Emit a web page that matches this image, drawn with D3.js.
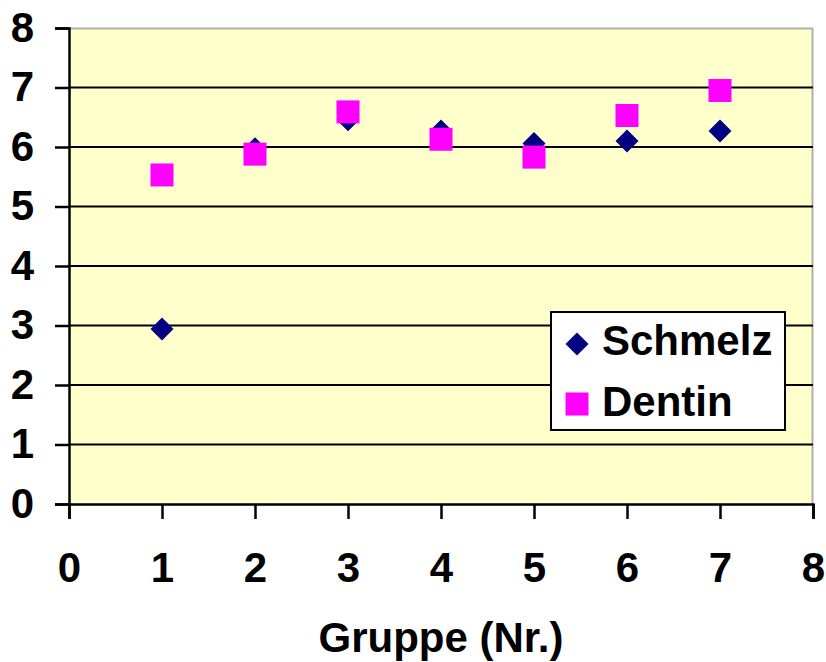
<!DOCTYPE html>
<html>
<head>
<meta charset="utf-8">
<script src="https://cdn.jsdelivr.net/npm/d3@7"></script>
<style>
  body { margin: 0; background: #fff; }
  svg text { font-family: "Liberation Sans", Arial, sans-serif; font-weight: bold; fill: #000; }
</style>
</head>
<body>
<div id="chart"></div>
<script>
const groups = [1, 2, 3, 4, 5, 6, 7];
const schmelz = [2.94, 5.97, 6.46, 6.27, 6.06, 6.10, 6.27];
const dentin = [5.53, 5.88, 6.59, 6.13, 5.83, 6.53, 6.95];
const xTicks = [0, 1, 2, 3, 4, 5, 6, 7, 8];
const yTicks = [0, 1, 2, 3, 4, 5, 6, 7, 8];

const width = 826;
const height = 662;
const margin = { top: 28, right: 13, bottom: 158, left: 69 };
const innerW = width - margin.left - margin.right;
const innerH = height - margin.top - margin.bottom;
const fontSize = '42px';

const svg = d3.select('#chart').append('svg')
    .attr('width', width)
    .attr('height', height);

const group = svg.append('g')
    .attr('transform', `translate(${margin.left}, ${margin.top})`);

const xScale = d3.scaleLinear().domain([0, 8]).range([0, innerW]);
const yScale = d3.scaleLinear().domain([0, 8]).range([innerH, 0]);

// plot area
group.append('rect')
    .attr('width', innerW)
    .attr('height', innerH)
    .attr('fill', '#ffffcc');

// gray frame top / right
group.append('path')
    .attr('d', `M0,0.5H${innerW - 0.5}V${innerH}`)
    .attr('fill', 'none')
    .attr('stroke', '#b0b0b0')
    .attr('stroke-width', 2);

// gridlines
group.append('g')
    .selectAll('line')
    .data(yTicks.filter(d => d > 0 && d < 8))
    .join('line')
    .attr('x1', 0)
    .attr('x2', innerW)
    .attr('y1', d => yScale(d))
    .attr('y2', d => yScale(d))
    .attr('stroke', '#000')
    .attr('stroke-width', 2);

// axes
const yAxis = group.append('g')
    .call(d3.axisLeft(yScale).tickValues(yTicks).tickSize(14).tickPadding(21));
const xAxis = group.append('g')
    .attr('transform', `translate(0, ${innerH})`)
    .call(d3.axisBottom(xScale).tickValues(xTicks).tickSize(15).tickPadding(33));

[xAxis, yAxis].forEach(ax => {
    ax.select('.domain').attr('stroke', '#000').attr('stroke-width', 2.5);
    ax.selectAll('.tick line').attr('stroke', '#000').attr('stroke-width', 2.5);
    ax.selectAll('.tick text')
        .style('font-size', fontSize)
        .style('font-family', '"Liberation Sans", Arial, sans-serif')
        .style('font-weight', 'bold')
        .attr('fill', '#000');
});
yAxis.selectAll('.tick text').attr('dy', '0.31em');
xAxis.selectAll('.tick text').attr('dy', '0.71em');

// markers
const half = 11.5;
const diamond = (cx, cy) => `M${cx},${cy - half}L${cx + half},${cy}L${cx},${cy + half}L${cx - half},${cy}Z`;

group.append('g')
    .selectAll('path')
    .data(groups.map((g, i) => ({ x: g, y: schmelz[i] })))
    .join('path')
    .attr('d', d => diamond(xScale(d.x), yScale(d.y)))
    .attr('fill', '#000080');

group.append('g')
    .selectAll('rect')
    .data(groups.map((g, i) => ({ x: g, y: dentin[i] })))
    .join('rect')
    .attr('x', d => xScale(d.x) - half)
    .attr('y', d => yScale(d.y) - half)
    .attr('width', half * 2)
    .attr('height', half * 2)
    .attr('fill', '#ff00ff');

// x axis title
svg.append('text')
    .attr('x', 441)
    .attr('y', 652)
    .attr('text-anchor', 'middle')
    .style('font-size', fontSize)
    .text('Gruppe (Nr.)');

// legend
const legend = svg.append('g').attr('transform', 'translate(551, 312)');
legend.append('rect')
    .attr('width', 234)
    .attr('height', 118)
    .attr('fill', '#fff')
    .attr('stroke', '#000')
    .attr('stroke-width', 2);
legend.append('path')
    .attr('d', diamond(26, 32))
    .attr('fill', '#000080');
legend.append('rect')
    .attr('x', 26 - half)
    .attr('y', 92 - half)
    .attr('width', half * 2)
    .attr('height', half * 2)
    .attr('fill', '#ff00ff');
legend.append('text')
    .attr('x', 51)
    .attr('y', 43)
    .style('font-size', fontSize)
    .text('Schmelz');
legend.append('text')
    .attr('x', 51)
    .attr('y', 104)
    .style('font-size', fontSize)
    .text('Dentin');
</script>
</body>
</html>
